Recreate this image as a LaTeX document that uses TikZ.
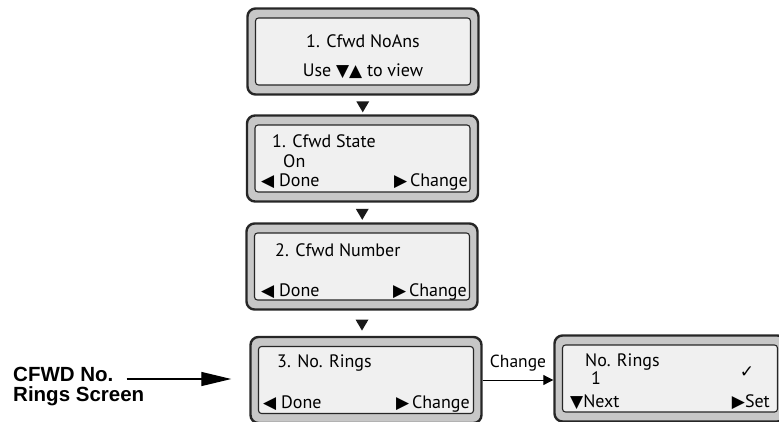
\documentclass[tikz,border=0pt]{standalone}
\usepackage{fontspec}
\setmainfont{PT Sans}
\newfontfamily\symfont{DejaVu Sans}
\newfontfamily\labelfont{Liberation Sans}
\usepackage{xcolor}
\usepackage{tikz}
\usetikzlibrary{calc,arrows.meta,shapes.geometric,positioning}
\newcommand{\lfttri}{{\symfont\fontsize{17}{17}\selectfont ◀}}
\newcommand{\rgttri}{{\symfont\fontsize{17}{17}\selectfont ▶}}
\newcommand{\dntri}{{\symfont\fontsize{17}{17}\selectfont ▼}}
\newcommand{\uptri}{{\symfont\fontsize{17}{17}\selectfont ▲}}
\newcommand{\tick}{{\symfont\fontsize{17}{17}\selectfont ✓}}
\tikzset{
  screen/.style   = {draw=black!85, line width=2.4pt, rounded corners=8pt, fill=black!22,
                     minimum width=231pt, minimum height=86pt, inner sep=0pt},
  lcd/.style      = {draw=black!85, line width=1.1pt, rounded corners=3pt, fill=black!6,
                     minimum width=215pt, minimum height=67pt, inner sep=0pt},
  lcdtext/.style  = {font=\fontsize{18}{18}\selectfont, inner sep=0pt, anchor=base west},
  lcdright/.style = {lcdtext, anchor=base east},
  flowmark/.style = {isosceles triangle, isosceles triangle apex angle=60,
                     isosceles triangle stretches, shape border rotate=270,
                     fill=black!90, inner sep=0pt, minimum height=11pt, minimum width=13pt},
  callout/.style  = {font=\labelfont\bfseries\fontsize{20.5}{20.5}\selectfont,
                     inner sep=0pt, anchor=base west},
  pointer/.style  = {-{Triangle[length=30pt,width=14pt]}, line width=1.3pt},
  link/.style     = {-{Triangle[length=10pt,width=10pt]}, line width=1pt},
}
\begin{document}
\begin{tikzpicture}[x=1pt,y=-1pt]
  \useasboundingbox (0,0) rectangle (779,421);
  \clip (0,0) rectangle (779,421);
  \node[screen] (s1) at (363,51.5) {};
  \node[lcd]    (s1lcd) at (s1) {};
  \node[screen] (s2) at (362.5,158.5) {};
  \node[lcd]    (s2lcd) at (s2) {};
  \node[screen] (s3) at (362,266.5) {};
  \node[lcd]    (s3lcd) at (s3) {};
  \node[screen] (s4) at (366,380) {};
  \node[lcd]    (s4lcd) at (s4) {};
  \node[screen] (s5) at (670,378.5) {};
  \node[lcd]    (s5lcd) at (s5) {};

  \node[flowmark] (m1) at ($(s1.south)!0.5!(s2.north)$) {};
  \node[flowmark] (m2) at ($(s2.south)!0.5!(s3.north)$) {};
  \node[flowmark] (m3) at ($(s3.south)!0.5!(s3.south |- s4.north)$) {};

  \node[lcdtext, anchor=base] (t1a) at (363,47) {1. Cfwd NoAns};
  \node[lcdtext, anchor=base] (t1b) at (363,76) {Use \dntri\uptri\ to view};
  \node[lcdtext]  (t2a) at (272,147) {1. Cfwd State};
  \node[lcdtext]  (t2b) at (283,167) {On};
  \node[lcdtext]  (t2c) at (261,186) {\lfttri\ Done};
  \node[lcdright] (t2d) at (468,186) {\rgttri\,Change};
  \node[lcdtext]  (t3a) at (275,256) {2. Cfwd Number};
  \node[lcdtext]  (t3b) at (261,296) {\lfttri\ Done};
  \node[lcdright] (t3c) at (467,296) {\rgttri\,Change};
  \node[lcdtext]  (t4a) at (277,367) {3. No. Rings};
  \node[lcdtext]  (t4b) at (263,408) {\lfttri\ Done};
  \node[lcdright] (t4c) at (470,408) {\rgttri\,Change};
  \node[lcdtext]  (t5a) at (585,366) {No. Rings};
  \node[lcdtext]  (t5b) at (591,384) {1};
  \node[lcdtext, anchor=base] (t5c) at (747,377) {\tick};
  \node[lcdtext]  (t5d) at (570,407) {\dntri Next};
  \node[lcdright] (t5e) at (770,407) {\rgttri Set};

  \node[callout] (cfwd)  at (13,381) {CFWD No.};
  \node[callout] (rings) at (13,401) {Rings Screen};
  \coordinate (tip) at ($(s4.west)+(-18,-1)$);
  \draw[pointer] ($(cfwd.east |- tip)+(13,0)$) to (tip);
  \draw[link] (s4.east) to
    node[midway, above=5pt, font=\fontsize{17.5}{17.5}\selectfont] (chg) {Change}
    (s4.east -| s5.west);
\end{tikzpicture}
\end{document}
